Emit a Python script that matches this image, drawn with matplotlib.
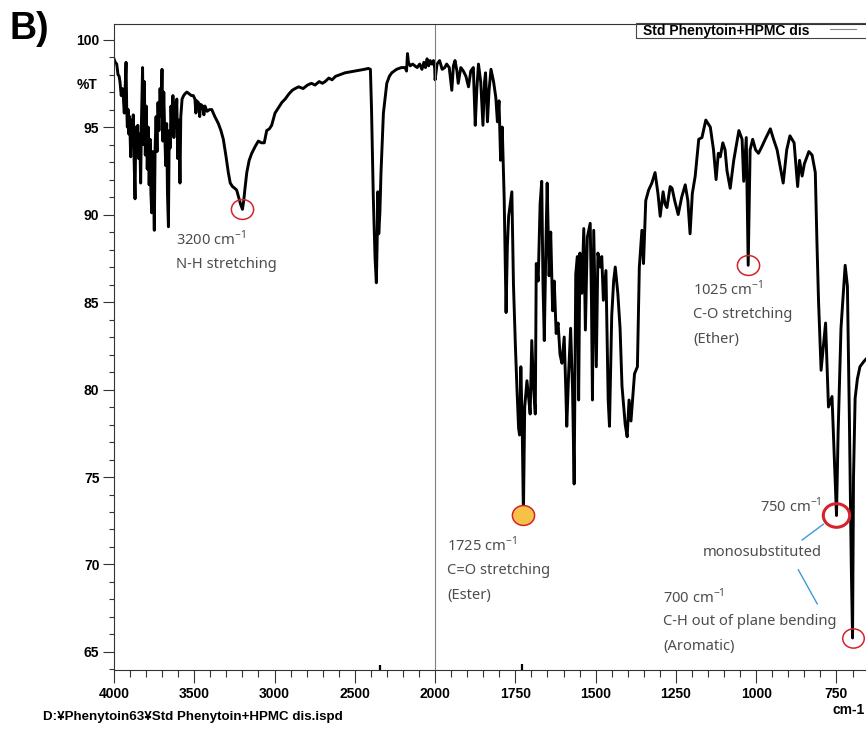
import numpy as np
import matplotlib
matplotlib.use("Agg")
import matplotlib.pyplot as plt
from matplotlib.patches import Rectangle
from matplotlib.path import Path

plt.rcParams['font.family'] = ['Liberation Sans', 'DejaVu Sans']
plt.rcParams['mathtext.fontset'] = 'custom'
plt.rcParams['mathtext.rm'] = 'Noto Sans'

# spectrum: wavenumber (cm-1), transmittance (%T)
wn = [4000, 3992, 3983, 3975, 3968, 3963, 3955, 3948, 3942, 3936, 3930, 3925, 3921, 3917, 3912, 3908,
      3903, 3896, 3891, 3886, 3880, 3875, 3869, 3864, 3858, 3852, 3846, 3840, 3834, 3829, 3822, 3817,
      3811, 3805, 3799, 3793, 3787, 3781, 3775, 3770, 3765, 3760, 3754, 3749, 3744, 3738, 3732, 3726,
      3720, 3713, 3707, 3701, 3696, 3690, 3684, 3678, 3672, 3667, 3661, 3656, 3650, 3645, 3639, 3633,
      3627, 3621, 3615, 3609, 3603, 3597, 3593, 3589, 3584, 3576, 3566, 3558, 3546, 3532, 3518, 3506,
      3496, 3490, 3485, 3474, 3466, 3461, 3448, 3440, 3434, 3420, 3405, 3391, 3372, 3350, 3334, 3319,
      3302, 3288, 3276, 3262, 3248, 3236, 3224, 3212, 3200, 3192, 3184, 3173, 3158, 3142, 3120, 3101,
      3082, 3064, 3049, 3032, 3018, 2997, 2976, 2955, 2934, 2910, 2890, 2872, 2850, 2822, 2795, 2770,
      2748, 2722, 2702, 2685, 2662, 2642, 2620, 2590, 2561, 2530, 2498, 2468, 2440, 2416, 2403, 2396,
      2385, 2374, 2366, 2361, 2357, 2351, 2344, 2337, 2322, 2301, 2285, 2270, 2240, 2210, 2187, 2178,
      2172, 2166, 2155, 2140, 2126, 2112, 2096, 2082, 2070, 2060, 2050, 2040, 2031, 2020, 2010, 2003,
      2000, 1994, 1986, 1978, 1970, 1964, 1956, 1948, 1943, 1938, 1932, 1928, 1920, 1912, 1904, 1896,
      1889, 1881, 1875, 1870, 1865, 1858, 1851, 1846, 1843, 1840, 1837, 1832, 1826, 1818, 1811, 1806,
      1801, 1796, 1791, 1785, 1779, 1775, 1771, 1766, 1761, 1756, 1750, 1745, 1740, 1737, 1733, 1729,
      1725, 1721, 1714, 1708, 1704, 1699, 1693, 1688, 1685, 1679, 1673, 1668, 1664, 1660, 1655, 1651,
      1645, 1640, 1634, 1629, 1623, 1617, 1611, 1605, 1598, 1593, 1590, 1584, 1578, 1572, 1567, 1562,
      1557, 1553, 1549, 1543, 1537, 1532, 1526, 1517, 1513, 1510, 1506, 1498, 1493, 1486, 1481, 1476,
      1468, 1461, 1457, 1450, 1444, 1439, 1431, 1424, 1418, 1408, 1402, 1396, 1390, 1385, 1379, 1370,
      1364, 1356, 1351, 1344, 1335, 1325, 1315, 1306, 1299, 1290, 1284, 1278, 1268, 1262, 1254, 1243,
      1232, 1221, 1213, 1206, 1199, 1190, 1179, 1169, 1157, 1150, 1143, 1133, 1125, 1118, 1112, 1104,
      1097, 1091, 1081, 1070, 1054, 1044, 1039, 1031, 1025, 1019, 1011, 1002, 993, 982, 972, 956,
      946, 935, 916, 905, 895, 882, 871, 865, 857, 850, 836, 826, 816, 811, 806, 798,
      784, 775, 764, 750, 745, 736, 723, 716, 710, 704, 700, 697, 692, 685, 677, 665, 655]
tr = [98.9, 98.7, 98.6, 98.0, 97.9, 97.6, 96.8, 97.2, 96.7, 95.8, 97.4, 98.7, 96.2, 95.0, 96.0, 94.6,
      95.6, 93.3, 95.4, 94.1, 95.7, 93.2, 90.9, 95.0, 93.8, 95.1, 93.2, 94.6, 91.8, 95.3, 98.4, 94.0,
      97.6, 93.4, 96.2, 92.6, 95.0, 91.7, 94.3, 91.2, 90.1, 93.6, 91.6, 89.1, 93.8, 95.6, 93.6, 96.4,
      94.8, 97.2, 95.6, 98.3, 94.2, 97.0, 94.6, 92.8, 95.2, 91.2, 89.3, 94.8, 93.8, 96.2, 94.6, 96.8,
      94.4, 96.4, 95.0, 96.6, 93.2, 95.4, 94.0, 91.8, 95.6, 96.6, 96.8, 96.9, 97.0, 96.9, 96.8, 96.8,
      96.6, 95.8, 96.5, 96.4, 95.6, 96.3, 96.2, 95.7, 96.2, 95.9, 96.0, 96.0, 95.6, 95.2, 94.8, 94.3,
      93.3, 92.4, 91.8, 91.6, 91.5, 91.4, 91.0, 90.6, 90.3, 90.8, 91.5, 92.4, 93.1, 93.5, 93.9, 94.2,
      94.1, 94.1, 94.8, 94.9, 95.1, 95.8, 96.1, 96.4, 96.6, 96.9, 97.1, 97.2, 97.3, 97.2, 97.4, 97.5,
      97.4, 97.6, 97.5, 97.6, 97.8, 97.7, 97.9, 98.0, 98.1, 98.15, 98.2, 98.25, 98.3, 98.35, 98.3, 96.0,
      91.0, 87.5, 86.1, 88.4, 91.3, 88.9, 90.1, 92.4, 95.8, 97.5, 97.9, 98.1, 98.3, 98.4, 98.4, 98.2,
      99.2, 98.7, 98.5, 98.6, 98.5, 98.4, 98.6, 98.3, 98.7, 98.4, 98.9, 98.5, 98.8, 98.6, 98.8, 98.4,
      97.7, 98.6, 98.8, 98.3, 98.4, 98.6, 98.4, 97.1, 98.5, 98.8, 98.2, 97.5, 98.4, 98.2, 97.9, 97.3,
      98.2, 98.4, 95.1, 97.2, 98.6, 97.6, 95.1, 97.6, 98.1, 96.8, 95.3, 97.1, 98.3, 97.6, 96.7, 95.3,
      96.5, 93.1, 95.0, 91.0, 84.4, 88.2, 89.9, 90.6, 91.3, 86.0, 82.5, 80.0, 77.8, 77.4, 81.3, 78.2,
      72.8, 79.0, 80.5, 79.4, 78.6, 82.8, 80.0, 78.6, 87.2, 86.2, 90.6, 91.9, 86.0, 82.8, 88.2, 91.8,
      86.5, 89.0, 84.5, 86.2, 83.2, 83.8, 82.0, 81.5, 83.0, 80.0, 77.9, 81.0, 83.5, 80.0, 74.6, 86.6,
      87.6, 79.4, 87.8, 85.5, 89.2, 83.4, 88.7, 89.5, 85.0, 79.4, 89.1, 81.3, 87.8, 87.0, 87.6, 85.1,
      86.8, 79.4, 77.9, 84.2, 86.2, 87.0, 85.5, 83.5, 80.2, 78.0, 77.3, 79.4, 78.2, 79.4, 80.9, 81.3,
      87.0, 89.1, 87.2, 90.8, 91.4, 91.8, 92.4, 91.2, 89.9, 91.3, 90.6, 90.4, 91.6, 91.5, 90.8, 90.0,
      91.0, 91.7, 90.8, 88.9, 91.2, 92.2, 94.3, 94.4, 95.4, 95.2, 95.0, 93.7, 92.0, 93.5, 93.3, 94.1,
      93.7, 92.5, 91.5, 93.1, 94.8, 94.3, 91.9, 94.4, 87.1, 93.7, 94.3, 93.7, 93.5, 93.9, 94.3, 94.9,
      94.3, 93.7, 91.8, 93.7, 94.5, 94.1, 91.6, 93.1, 92.2, 92.9, 93.6, 93.4, 92.4, 88.5, 85.1, 81.1,
      83.8, 79.0, 79.6, 72.8, 77.5, 83.5, 87.1, 85.9, 78.5, 70.0, 65.8, 75.0, 79.5, 80.6, 81.3, 81.6, 81.8]

x_major = [4000, 3500, 3000, 2500, 2000, 1750, 1500, 1250, 1000, 750]
x_minor = list(range(3900, 2000, -100)) + list(range(1950, 650, -50))

# marked bands
peak_wn = [3200, 1725, 1025, 750, 700]
peak_size = [16, 16, 16, 19, 15.5]
peak_lw = [1.1, 1.1, 1.1, 2.2, 1.1]
peak_fill = ['none', '#f5c146', 'none', 'none', 'none']

# (left wavenumber, first-line %T, lines)
notes = [
    (3614, 88.6, ['3200 cm$^{-1}$', 'N-H stretching']),
    (1196, 85.7, ['1025 cm$^{-1}$', 'C-O stretching', '(Ether)']),
    (1963, 71.1, ['1725 cm$^{-1}$', 'C=O stretching', '(Ester)']),
    (1290, 68.15, ['700 cm$^{-1}$', 'C-H out of plane bending', '(Aromatic)']),
]


# wavenumber axis: the part below 2000 cm-1 is drawn at double scale
def fwd(w):
    w = np.asarray(w, dtype=float)
    return np.where(w >= 2000, w - 2000, 2 * (w - 2000))


def inv(u):
    u = np.asarray(u, dtype=float)
    return np.where(u >= 0, u + 2000, u / 2 + 2000)


W, H = 866, 754


def fx(px):
    return px / W


def fy(py):
    return 1 - py / H


fig = plt.figure(figsize=(W / 100, H / 100), dpi=100)
ax = fig.add_axes([fx(114), fy(670), 753 / W, (670 - 24) / H])
ax.set_xscale('function', functions=(fwd, inv))
ax.set_xlim(4000, 655)
ax.set_ylim(63.97, 100.89)

ax.plot(wn, tr, color='black', lw=2.1, solid_joinstyle='round')
ax.axvline(2000, color='#808080', lw=0.8)

ax.set_xticks(x_major)
ax.set_xticklabels([str(v) for v in x_major])
ax.set_xticks(x_minor, minor=True)
ax.set_yticks(range(65, 101, 5))
ax.set_yticks(range(64, 101), minor=True)
ax.tick_params(axis='x', which='major', length=9.5, width=0.8, pad=3, labelsize=10, color='#333333')
ax.tick_params(axis='x', which='minor', length=5, width=0.8, color='#333333')
ax.tick_params(axis='y', which='major', length=8, width=0.8, pad=2.5, labelsize=10, color='#333333')
ax.tick_params(axis='y', which='minor', length=3.5, width=0.8, color='#333333')
for lab in ax.get_xticklabels() + ax.get_yticklabels():
    lab.set_fontweight('bold')
ax.spines['right'].set_visible(False)
for s in ['top', 'left', 'bottom']:
    ax.spines[s].set_color('#333333')
    ax.spines[s].set_linewidth(0.8)

# small marks sitting on the baseline
ax.plot([2345, 1730], [64.1, 64.15], '|', color='black', ms=5, mew=1.6, clip_on=False)

# red rings on the assigned bands
ring = Path.unit_circle()
ring = Path(ring.vertices * [1.12, 1.0], ring.codes)
for w, s, lw, fc in zip(peak_wn, peak_size, peak_lw, peak_fill):
    ax.plot(w, tr[wn.index(w)], marker=ring, ms=s, mfc=fc, mec='#d4232b', mew=lw, zorder=5)

txt = dict(family='Noto Sans', fontsize=10.6, color='#4d4d4d', va='center', ha='left')
for w0, t0, lines in notes:
    for i, line in enumerate(lines):
        ax.text(w0, t0 - i * 1.43, line, **txt)
ax.text(988, 73.3, '750 cm$^{-1}$', **txt)
ax.text(1168, 70.66, 'monosubstituted', **txt)
ax.plot([857, 791], [71.4, 72.3], color='#3d9ad6', lw=1)
ax.plot([869, 810], [69.7, 67.75], color='#3d9ad6', lw=1)

fig.text(fx(97), fy(85), '%T', ha='right', va='center', fontsize=10, fontweight='bold')
fig.text(fx(865), fy(710), 'cm-1', ha='right', va='center', fontsize=10, fontweight='bold')
fig.text(fx(9), fy(29), 'B)', ha='left', va='center', fontsize=27, fontweight='bold')
fig.text(fx(43), fy(717), 'D:\u00a5Phenytoin63\u00a5Std Phenytoin+HPMC dis.ispd',
         ha='left', va='center', fontsize=9.6, fontweight='bold')

# legend box in the top right corner
fig.add_artist(Rectangle((fx(636), fy(38)), fx(872) - fx(636), (38 - 23) / H,
                         transform=fig.transFigure, fill=False, ec='#444444', lw=0.8))
fig.text(fx(643), fy(30.5), 'Std Phenytoin+HPMC dis', ha='left', va='center',
         fontsize=10, fontweight='bold')
fig.add_artist(plt.Line2D([fx(830), fx(856)], [fy(29), fy(29)], transform=fig.transFigure,
                          color='#888888', lw=0.8))

fig.savefig('out.png', dpi=100)
